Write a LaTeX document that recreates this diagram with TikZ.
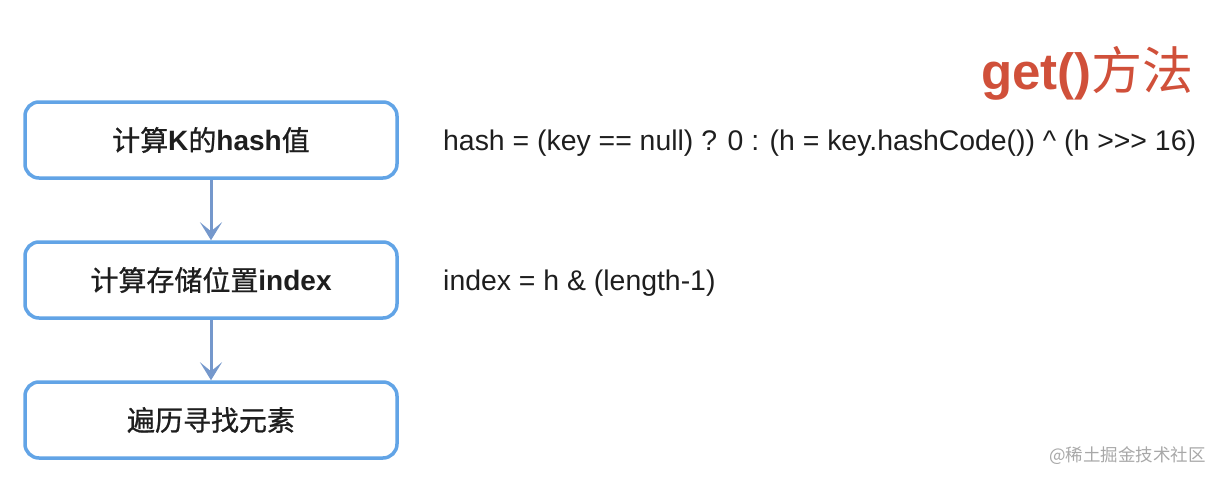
\documentclass[tikz,border=0pt]{standalone}
\usepackage{fontspec}
\setmainfont{Liberation Sans}
\newfontfamily\cjk{Noto Sans CJK SC}
\newfontfamily\cjkm[FakeBold=0.8]{Noto Sans CJK SC}
\usetikzlibrary{arrows.meta}
\definecolor{boxblue}{HTML}{62A4E6}
\definecolor{arrblue}{HTML}{7598CC}
\definecolor{titlered}{HTML}{D0503A}
\definecolor{wmgray}{HTML}{A8A8A8}
\definecolor{txt}{HTML}{1E1E1E}
\newcommand{\zh}[1]{{\cjkm #1}}
\newcommand{\en}[1]{{\bfseries #1}}
\begin{document}
\begin{tikzpicture}[x=1pt,y=-1pt,
  stepbox/.style={draw=boxblue,line width=3.5pt,rounded corners=14pt,minimum width=372pt,minimum height=76pt,fill=white,inner sep=0pt,text=txt,font=\fontsize{28}{31}\selectfont},
  flow/.style={draw=arrblue,line width=3pt,-{Stealth[length=18pt,width=22pt,inset=9pt]}},
  formula/.style={anchor=west,inner sep=0pt,text=txt,font=\fontsize{28.4}{32}\selectfont}]
\useasboundingbox (0,0) rectangle (1224,482);
\node[stepbox] (s1) at (211,140) {\zh{计算}\en{K}\zh{的}\en{hash}\zh{值}};
\node[stepbox] (s2) at (211,280) {\zh{计算存储位置}\en{index}};
\node[stepbox] (s3) at (211,420) {\zh{遍历寻找元素}};
\draw[flow] (s1) -- (s2);
\draw[flow] (s2) -- (s3);
\node[formula] (f1) at (443,143) {hash = (key == null) ? 0 : (h = key.hashCode()) \textasciicircum{} (h >{}>{}> 16)};
\node[formula] (f2) at (443,283) {index = h \& (length-1)};
\node[anchor=east,inner sep=0pt,text=titlered,font=\fontsize{51}{56}\selectfont] (title) at (1194,73) {\textbf{get()}{\cjk 方法}};
\node[anchor=east,inner sep=0pt,text=wmgray,font=\fontsize{17.5}{20}\selectfont\cjk] (wm) at (1206,456) {@稀土掘金技术社区};
\end{tikzpicture}
\end{document}
